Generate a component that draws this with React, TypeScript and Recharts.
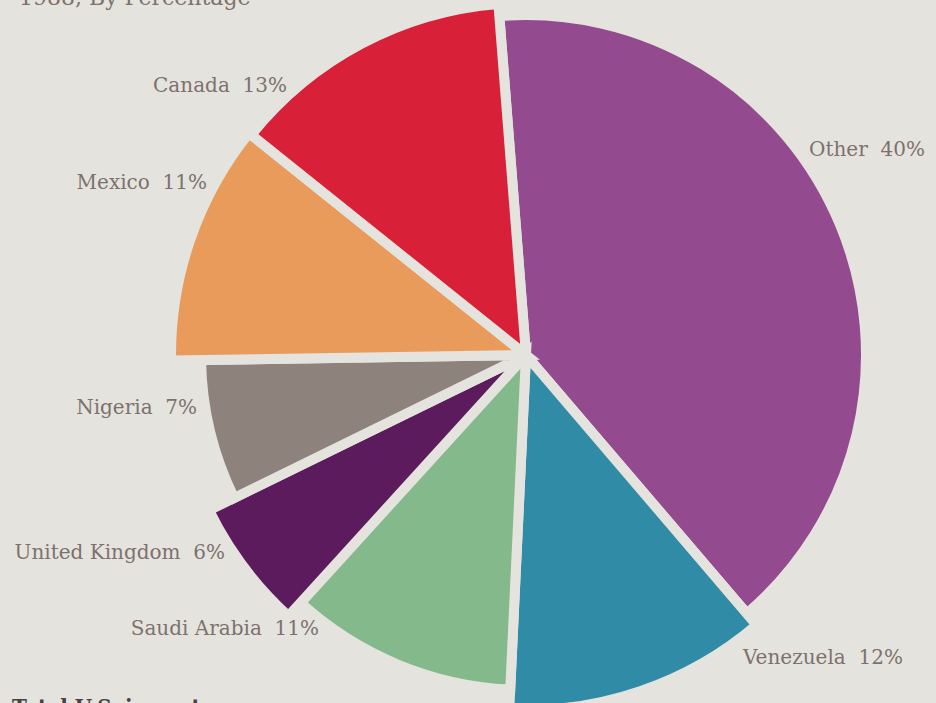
import { PieChart, Pie, Cell } from 'recharts';

const COUNTRIES = ['Other', 'Venezuela', 'Saudi Arabia', 'United Kingdom', 'Nigeria', 'Mexico', 'Canada'];
const SHARES = [40, 12, 11, 6, 7, 11, 13];

const COLORS = ['#934a8e', '#2f8ba6', '#84b98b', '#5c1b5c', '#8e827d', '#e89b5b', '#d82039'];
// each wedge in the original has its own length
const RADII = [340, 355, 335, 353, 325, 355, 352];
// label anchor offsets from the pie centre
const LABEL_OFFSETS: [number, number, 'start' | 'end'][] = [
  [283, -206, 'start'],
  [217, 302, 'start'],
  [-207, 273, 'end'],
  [-301, 197, 'end'],
  [-329, 52, 'end'],
  [-319, -173, 'end'],
  [-239, -270, 'end'],
];

const BG = '#e5e3de';
const TEXT = '#7d716d';
const CX = 521;
const CY = 350;
const START = 94.5;

export default function App() {
  const total = SHARES.reduce((a, b) => a + b, 0);
  let cum = 0;
  const slices = SHARES.map((v, i) => {
    const start = START - (360 * cum) / total;
    cum += v;
    const end = START - (360 * cum) / total;
    return { name: COUNTRIES[i], value: v, start, end, i };
  });

  const renderLabel = (i: number) => (props: any) => {
    const [dx, dy, anchor] = LABEL_OFFSETS[i];
    return (
      <text
        x={props.cx + dx}
        y={props.cy + dy}
        textAnchor={anchor}
        dominantBaseline="central"
        fill={TEXT}
        fontSize={20}
        fontFamily="DejaVu Serif"
        style={{ whiteSpace: 'pre' }}
      >
        {`${COUNTRIES[i]}  ${SHARES[i]}%`}
      </text>
    );
  };

  return (
    <div style={{ position: 'absolute', left: 0, top: 0, width: 936, height: 703, background: BG, overflow: 'hidden' }}>
      <div style={{ position: 'absolute', left: 19, top: -13, fontFamily: 'DejaVu Serif', fontSize: 22, color: TEXT, lineHeight: '22px' }}>
        1988, By Percentage
      </div>
      <PieChart width={936} height={703}>
        {slices.map(s => (
          <Pie
            key={s.name}
            data={[{ name: s.name, value: s.value }]}
            dataKey="value"
            nameKey="name"
            cx={CX}
            cy={CY}
            startAngle={s.start}
            endAngle={s.end}
            innerRadius={0}
            outerRadius={RADII[s.i]}
            stroke={BG}
            strokeWidth={10}
            label={renderLabel(s.i)}
            labelLine={false}
            isAnimationActive={false}
          >
            <Cell fill={COLORS[s.i]} />
          </Pie>
        ))}
      </PieChart>
      <div style={{ position: 'absolute', left: 12, top: 695, fontFamily: 'DejaVu Serif', fontWeight: 'bold', fontSize: 20, color: '#4a403d', lineHeight: '24px' }}>
        Total U.S. imports
      </div>
    </div>
  );
}
